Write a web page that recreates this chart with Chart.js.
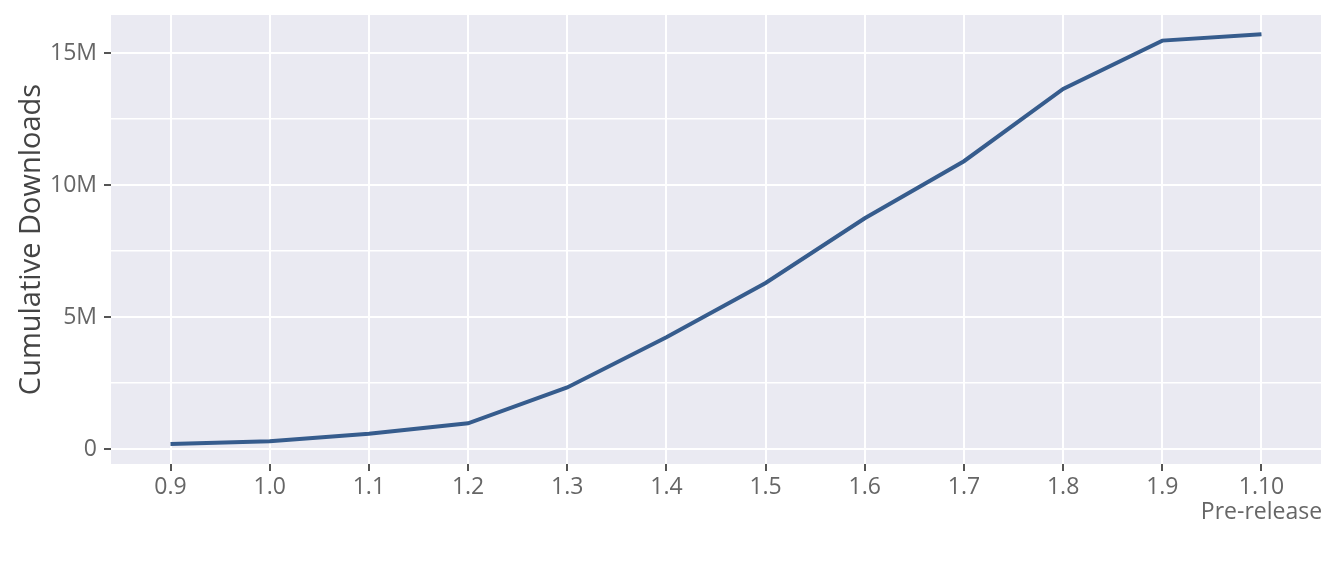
<!DOCTYPE html>
<html>
<head>
<meta charset="utf-8">
<script src="https://cdn.jsdelivr.net/npm/chart.js@4/dist/chart.umd.min.js"></script>
<style>
  html, body { margin: 0; padding: 0; background: #fff; }
  #wrap { width: 1344px; height: 576px; }
</style>
</head>
<body>
<div id="wrap"><canvas id="downloadsChart"></canvas></div>
<script>
// versions on the x axis, last one is the pre-release
const versions = ['0.9', '1.0', '1.1', '1.2', '1.3', '1.4', '1.5', '1.6', '1.7', '1.8', '1.9', '1.10'];
const preReleaseNote = 'Pre-release';
// cumulative downloads (millions)
const downloads = [0.19, 0.29, 0.58, 0.97, 2.33, 4.23, 6.29, 8.74, 10.9, 13.64, 15.47, 15.71];
const yTickLabels = { 0: '0', 5: '5M', 10: '10M', 15: '15M' };

const plotBg = {
    id: 'plotBg',
    beforeDraw(chart) {
        const { ctx, chartArea: a } = chart;
        ctx.save();
        ctx.fillStyle = '#EAEAF2';
        ctx.fillRect(a.left, a.top, a.right - a.left, a.bottom - a.top);
        ctx.restore();
    }
};

const isMajor = v => Math.abs(v / 5 - Math.round(v / 5)) < 1e-6;

const ctx = document.getElementById('downloadsChart').getContext('2d');
new Chart(ctx, {
    type: 'line',
    data: {
        datasets: [{
            label: 'Cumulative Downloads',
            data: downloads.map((v, i) => ({ x: i, y: v })),
            borderColor: 'rgb(54, 92, 141)',
            borderWidth: 4,
            pointRadius: 0,
            tension: 0,
            fill: false
        }]
    },
    options: {
        responsive: true,
        maintainAspectRatio: false,
        animation: false,
        layout: { padding: { left: 0, right: 23, top: 15, bottom: 0 } },
        plugins: { legend: { display: false }, tooltip: { enabled: false } },
        scales: {
            x: {
                type: 'linear',
                min: -0.6,
                max: 11.6,
                afterBuildTicks: s => { s.ticks = versions.map((_, i) => ({ value: i })); },
                afterFit: s => {
                    s.height = 576 - 464;
                    s.paddingLeft = 0;
                    s.paddingRight = 0;
                },
                border: { display: false },
                grid: { color: '#fff', lineWidth: 2, tickColor: '#555', tickLength: 7, tickWidth: 2 },
                ticks: {
                    padding: 4,
                    color: '#666',
                    font: { family: '"Open Sans"', size: 23, lineHeight: 1.1 },
                    maxRotation: 0,
                    autoSkip: false,
                    callback: v => v === versions.length - 1 ? [versions[v], preReleaseNote] : versions[v]
                }
            },
            y: {
                min: -0.57,
                max: 16.44,
                afterBuildTicks: s => {
                    const t = [];
                    for (let v = 0; v <= 15; v += 2.5) t.push({ value: v });
                    s.ticks = t;
                },
                afterFit: s => {
                    s.width = 111;
                    s.paddingTop = 0;
                    s.paddingBottom = 0;
                },
                border: { display: false },
                grid: {
                    color: '#fff',
                    lineWidth: c => isMajor(c.tick.value) ? 2 : 1.6,
                    tickColor: c => isMajor(c.tick.value) ? '#555' : 'rgba(0,0,0,0)',
                    tickLength: 7,
                    tickWidth: 2
                },
                ticks: {
                    padding: 7,
                    color: '#666',
                    font: { family: '"Open Sans"', size: 23 },
                    callback: v => yTickLabels[v] !== undefined ? yTickLabels[v] : ''
                },
                title: {
                    display: true,
                    text: 'Cumulative Downloads',
                    color: '#444',
                    font: { family: '"Open Sans"', size: 29, lineHeight: 1.2 },
                    padding: { top: 14, bottom: 0 }
                }
            }
        }
    },
    plugins: [plotBg]
});
</script>
</body>
</html>
